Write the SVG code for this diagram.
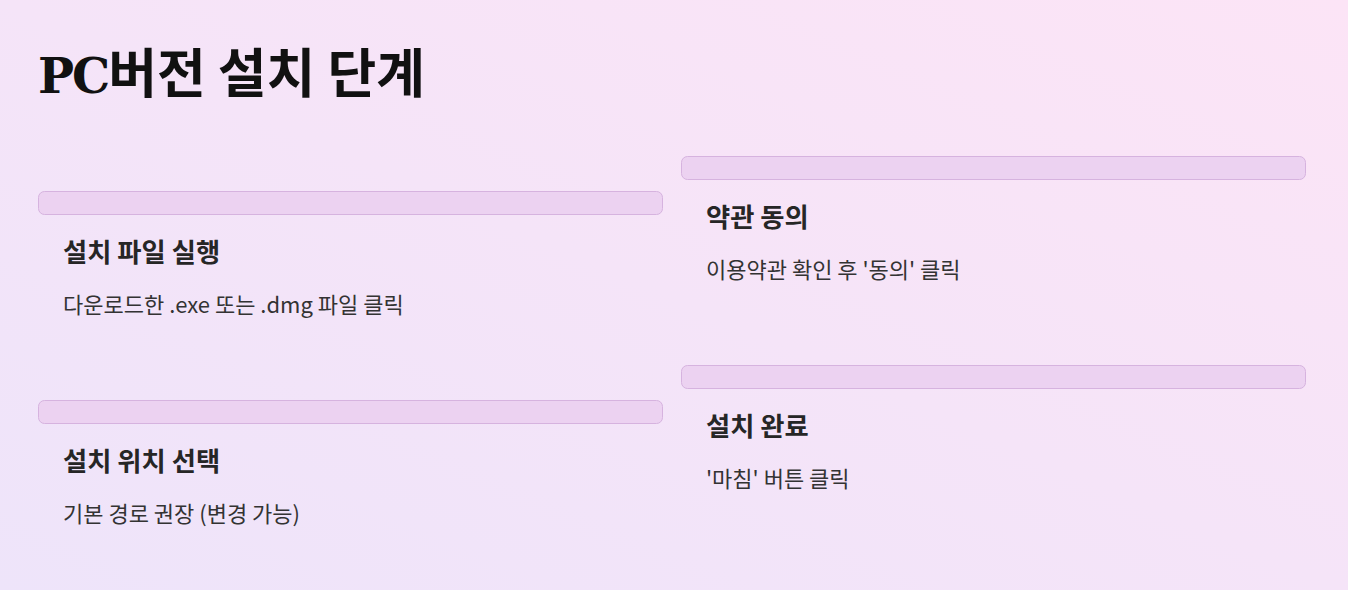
<svg xmlns="http://www.w3.org/2000/svg" width="1348" height="590" viewBox="0 0 1348 590">
<defs>
<linearGradient id="bg" x1="0" y1="1" x2="1" y2="0">
<stop offset="0" stop-color="#eee4fa"/>
<stop offset="1" stop-color="#fce4f6"/>
</linearGradient>
<style>
.bar{fill:#ecd2f1;stroke:#d6b3df;stroke-width:1}
.h{font-family:"Noto Sans CJK KR","Noto Sans",sans-serif;font-weight:700;font-size:26.3px;fill:#262626}
.b{font-family:"Noto Sans CJK KR","Noto Sans",sans-serif;font-size:22px;fill:#333333}
.t{font-family:"DejaVu Serif","Noto Sans CJK KR",serif;font-weight:700;font-size:53px;fill:#111111}
</style>
</defs>
<rect width="1348" height="590" fill="url(#bg)"/>
<text class="t" x="38" y="93"><tspan font-family="DejaVu Serif" font-size="48" letter-spacing="-2">PC</tspan><tspan font-family="Noto Sans CJK KR">버전 설치 단계</tspan></text>
<g id="step1">
<rect class="bar" x="38.5" y="191.5" width="624" height="23" rx="6"/>
<text class="h" x="63" y="262">설치 파일 실행</text>
<text class="b" x="63" y="313">다운로드한 .exe 또는 .dmg 파일 클릭</text>
</g>
<g id="step2">
<rect class="bar" x="38.5" y="400.5" width="624" height="23" rx="6"/>
<text class="h" x="63" y="471">설치 위치 선택</text>
<text class="b" x="63" y="522">기본 경로 권장 (변경 가능)</text>
</g>
<g id="step3">
<rect class="bar" x="681.5" y="156.5" width="624" height="23" rx="6"/>
<text class="h" x="706" y="227">약관 동의</text>
<text class="b" x="706" y="278">이용약관 확인 후 '동의' 클릭</text>
</g>
<g id="step4">
<rect class="bar" x="681.5" y="365.5" width="624" height="23" rx="6"/>
<text class="h" x="706" y="436">설치 완료</text>
<text class="b" x="706" y="487">'마침' 버튼 클릭</text>
</g>
<g id="connectors"/>
</svg>
